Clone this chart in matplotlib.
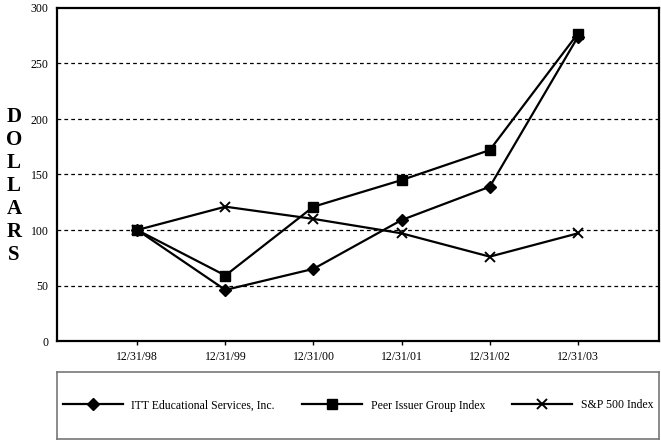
import numpy as np
import matplotlib.pyplot as plt
from matplotlib.lines import Line2D

plt.rcParams['font.family'] = ['Liberation Serif', 'DejaVu Serif']

dates = ["12/31/98", "12/31/99", "12/31/00", "12/31/01", "12/31/02", "12/31/03"]
itt = [100, 46, 65, 109, 139, 274]
peer = [100, 59, 121, 145, 172, 277]
sp500 = [100, 121, 110, 97, 76, 97]

fig = plt.figure(figsize=(6.61, 4.4), dpi=100)
ax = fig.add_axes([57/661, 1-341/440, 602/661, 333/440])

x = np.arange(len(dates))
ax.plot(x, itt, color='black', linewidth=1.6, marker='D', markersize=6.5)
ax.plot(x, peer, color='black', linewidth=1.6, marker='s', markersize=7)
ax.plot(x, sp500, color='black', linewidth=1.6, marker='x', markersize=6.5, markeredgewidth=1.4)

ax.set_xlim(-0.91, 5.92)
ax.set_ylim(0, 300)
ax.set_yticks(np.arange(0, 301, 50))
ax.set_xticks(x)
ax.set_xticklabels(dates)
ax.tick_params(axis='both', labelsize=8.5, direction='out', length=3, width=1, colors='black')
ax.tick_params(axis='x', pad=4)
ax.tick_params(axis='y', length=0, pad=6)
for val in [50, 100, 150, 200, 250]:
    ax.axhline(val, color='black', linewidth=0.9, linestyle=(0, (3, 2.5)), zorder=0)
for sp in ax.spines.values():
    sp.set_linewidth(1.6)
    sp.set_color('black')

fig.text(14/661, 1-186/440, "\n".join("DOLLARS"), ha='center', va='center',
         fontsize=15, fontweight='bold', linespacing=1.2)

# legend box
lax = fig.add_axes([57/661, 1-439/440, 602/661, 67/440])
lax.set_xticks([])
lax.set_yticks([])
for sp in lax.spines.values():
    sp.set_color('#777777')
    sp.set_linewidth(1.2)

handles = [
    Line2D([], [], color='black', linewidth=1.6, marker='D', markersize=6.5),
    Line2D([], [], color='black', linewidth=1.6, marker='s', markersize=7),
    Line2D([], [], color='black', linewidth=1.6, marker='x', markersize=6.5, markeredgewidth=1.4),
]
labels = ["ITT Educational Services, Inc.", "Peer Issuer Group Index", "S&P 500 Index"]
lax.legend(handles, labels, loc='center', ncol=3, frameon=False, fontsize=8.5,
           handlelength=5.1, columnspacing=2.3, handletextpad=0.7,
           bbox_to_anchor=(0.5, 0.5))

fig.savefig("out.png", dpi=100)
